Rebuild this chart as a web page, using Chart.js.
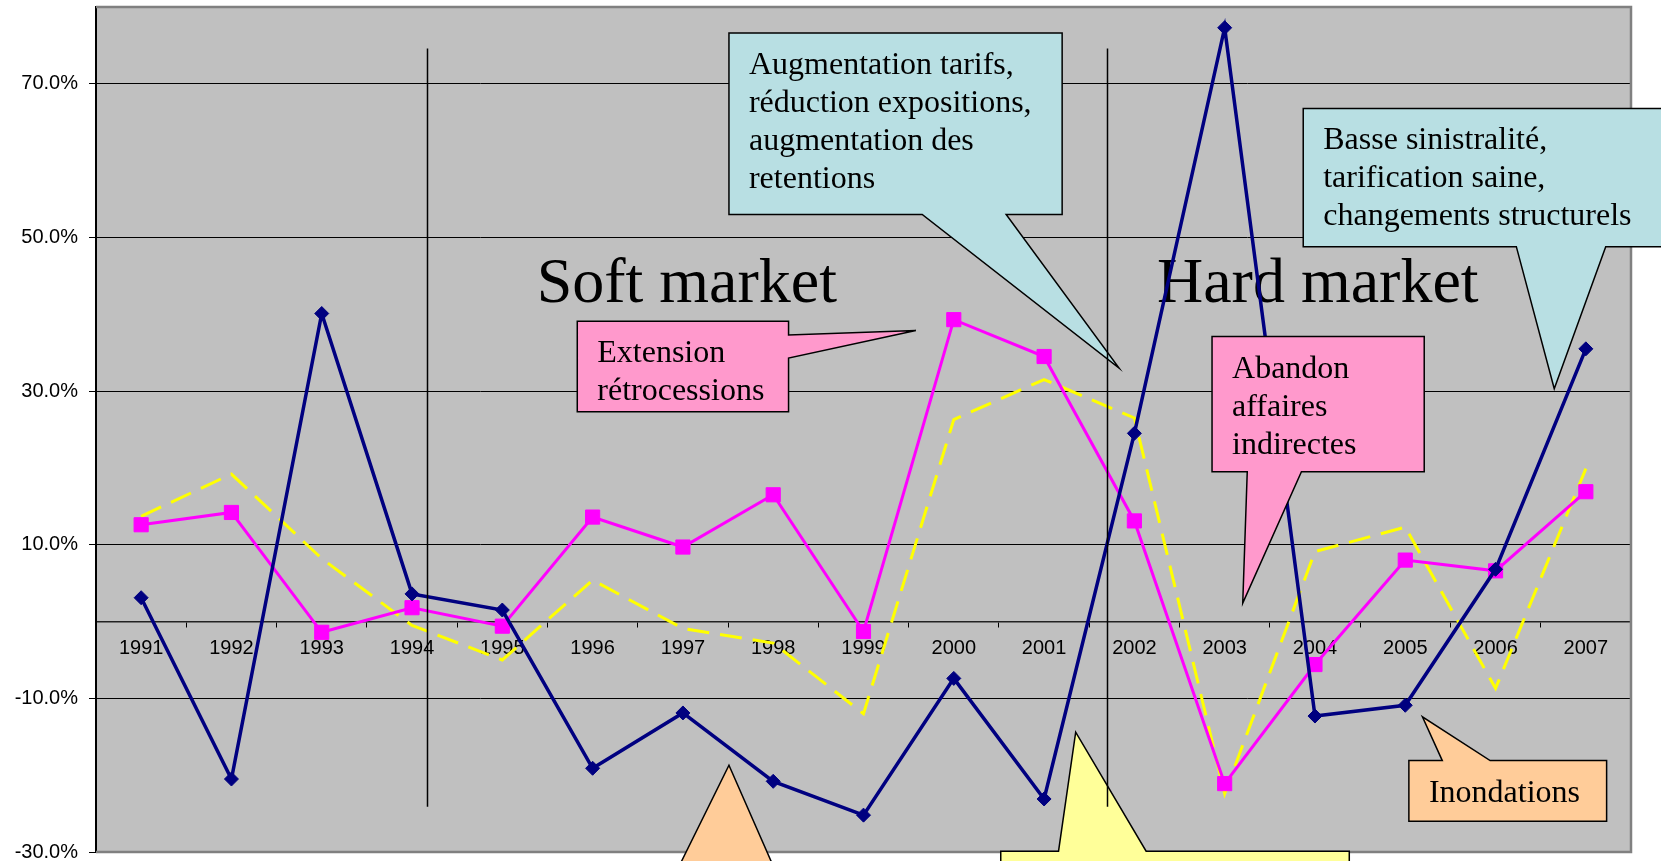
<!DOCTYPE html>
<html>
<head>
<meta charset="utf-8">
<script src="https://cdn.jsdelivr.net/npm/chart.js@4.4.1/dist/chart.umd.min.js"></script>
<style>
  html, body { margin: 0; padding: 0; background: #fff; }
  canvas { display: block; }
</style>
</head>
<body>
<canvas id="chart" width="1661" height="861"></canvas>
<script>
const years = ['1991', '1992', '1993', '1994', '1995', '1996', '1997', '1998', '1999',
               '2000', '2001', '2002', '2003', '2004', '2005', '2006', '2007'];
const navySeries = [3.1, -20.5, 40.1, 3.6, 1.5, -19.1, -11.9, -20.8, -25.2,
                    -7.4, -23.1, 24.5, 77.3, -12.3, -10.9, 6.8, 35.5];
const pinkSeries = [12.6, 14.2, -1.4, 1.8, -0.6, 13.6, 9.7, 16.5, -1.3,
                    39.3, 34.5, 13.1, -21.1, -5.6, 8.0, 6.6, 16.9];
const yellowSeries = [13.7, 19.2, 8.2, -0.5, -5.0, 5.4, -0.9, -2.8, -12.0,
                      26.3, 31.5, 26.5, -22.4, 9.1, 12.3, -8.7, 19.9];
const yTicks = [-30, -10, 10, 30, 50, 70];
const yMin = -30, yMax = 80;

// period labels and dividers (x in category index, y in %)
const periods = [
    { text: 'Soft market', x: 4.38, y: 41.6 },
    { text: 'Hard market', x: 11.25, y: 41.6 }
];
const dividers = [3.17, 10.70];
const dividerSpan = [74.6, -24.1];

// callouts: box = [left, right, top, bottom]
const callouts = [
    { fill: '#B8DFE3', box: [6.51, 10.20, 76.6, 53.0], side: 'bottom', base: [8.65, 9.58], tip: [10.83, 33.0],
      lines: ['Augmentation tarifs,', 'réduction expositions,', 'augmentation des', 'retentions'] },
    { fill: '#B8DFE3', box: [12.87, 17.2, 66.8, 48.8], side: 'bottom', base: [15.23, 16.22], tip: [15.65, 30.3],
      lines: ['Basse sinistralité,', 'tarification saine,', 'changements structurels'] },
    { fill: '#FF99CC', box: [4.83, 7.17, 39.1, 27.3], side: 'right', base: [37.3, 34.3], tip: [8.58, 37.9],
      lines: ['Extension', 'rétrocessions'] },
    { fill: '#FF99CC', box: [11.86, 14.21, 37.1, 19.5], side: 'bottom', base: [12.25, 12.85], tip: [12.20, 2.4],
      lines: ['Abandon', 'affaires', 'indirectes'] },
    { fill: '#FFCC99', box: [14.04, 16.23, -18.1, -26.0], side: 'top', base: [14.41, 14.94], tip: [14.19, -12.4],
      lines: ['Inondations'] },
    { fill: '#FFCC99', box: [5.52, 8.40, -33.7, -45], side: 'top', base: [5.88, 7.07], tip: [6.51, -18.7],
      lines: [] },
    { fill: '#FFFF99', box: [9.52, 13.38, -29.9, -45], side: 'top', base: [10.16, 11.13], tip: [10.35, -14.4],
      lines: [] }
];

const serif = '"Liberation Serif", "Times New Roman", serif';
const sans = '"Liberation Sans", Arial, sans-serif';

function calloutPath(ctx, c, xs, ys) {
    const L = xs.getPixelForValue(c.box[0]), R = xs.getPixelForValue(c.box[1]);
    const T = ys.getPixelForValue(c.box[2]), B = ys.getPixelForValue(c.box[3]);
    const tx = xs.getPixelForValue(c.tip[0]), ty = ys.getPixelForValue(c.tip[1]);
    ctx.beginPath();
    if (c.side === 'right') {
        const b = c.base.map(v => ys.getPixelForValue(v)).sort((a, b) => a - b);
        ctx.moveTo(L, T); ctx.lineTo(R, T); ctx.lineTo(R, b[0]); ctx.lineTo(tx, ty);
        ctx.lineTo(R, b[1]); ctx.lineTo(R, B); ctx.lineTo(L, B);
    } else {
        const b = c.base.map(v => xs.getPixelForValue(v)).sort((a, b) => a - b);
        if (c.side === 'top') {
            ctx.moveTo(L, T); ctx.lineTo(b[0], T); ctx.lineTo(tx, ty); ctx.lineTo(b[1], T);
            ctx.lineTo(R, T); ctx.lineTo(R, B); ctx.lineTo(L, B);
        } else {
            ctx.moveTo(L, T); ctx.lineTo(R, T); ctx.lineTo(R, B); ctx.lineTo(b[1], B);
            ctx.lineTo(tx, ty); ctx.lineTo(b[0], B); ctx.lineTo(L, B);
        }
    }
    ctx.closePath();
    return { L, T };
}

const decor = {
    id: 'decor',
    beforeDraw(chart) {
        const { ctx, chartArea: a } = chart;
        ctx.save();
        ctx.fillStyle = '#fff';
        ctx.fillRect(0, 0, chart.width, chart.height);
        ctx.fillStyle = '#C0C0C0';
        ctx.fillRect(a.left, a.top, a.right - a.left, a.bottom - a.top);
        ctx.restore();
    },
    beforeDatasetsDraw(chart) {
        const { ctx, chartArea: a } = chart;
        const xs = chart.scales.x, ys = chart.scales.y;
        ctx.save();
        ctx.strokeStyle = '#808080';
        ctx.lineWidth = 2.5;
        ctx.beginPath();
        ctx.moveTo(a.left, a.top);
        ctx.lineTo(a.right, a.top);
        ctx.lineTo(a.right, a.bottom);
        ctx.lineTo(a.left, a.bottom);
        ctx.stroke();
        ctx.fillStyle = '#000';
        ctx.font = '64px ' + serif;
        ctx.textAlign = 'left';
        ctx.textBaseline = 'alphabetic';
        periods.forEach(p => {
            ctx.fillText(p.text, xs.getPixelForValue(p.x), ys.getPixelForValue(p.y));
        });
        ctx.restore();
    },
    afterDatasetsDraw(chart) {
        const { ctx } = chart;
        const xs = chart.scales.x, ys = chart.scales.y;
        ctx.save();
        ctx.textAlign = 'left';
        ctx.textBaseline = 'alphabetic';
        callouts.forEach(c => {
            const o = calloutPath(ctx, c, xs, ys);
            ctx.fillStyle = c.fill;
            ctx.fill();
            ctx.strokeStyle = '#000';
            ctx.lineWidth = 1.5;
            ctx.lineJoin = 'miter';
            ctx.stroke();
            ctx.fillStyle = '#000';
            ctx.font = '32px ' + serif;
            c.lines.forEach((t, i) => ctx.fillText(t, o.L + 20, o.T + 41 + i * 38));
        });
        ctx.strokeStyle = '#000';
        ctx.lineWidth = 1.5;
        dividers.forEach(d => {
            const x = Math.round(xs.getPixelForValue(d)) + 0.5;
            ctx.beginPath();
            ctx.moveTo(x, ys.getPixelForValue(dividerSpan[0]));
            ctx.lineTo(x, ys.getPixelForValue(dividerSpan[1]));
            ctx.stroke();
        });
        ctx.restore();
    }
};

new Chart(document.getElementById('chart'), {
    type: 'line',
    data: {
        labels: years,
        datasets: [
            {
                data: navySeries,
                borderColor: '#000080',
                backgroundColor: '#000080',
                borderWidth: 3.5,
                pointStyle: 'rectRot',
                pointRadius: 7,
                pointBorderWidth: 1,
                tension: 0
            },
            {
                data: pinkSeries,
                borderColor: '#FF00FF',
                backgroundColor: '#FF00FF',
                borderWidth: 3,
                pointStyle: 'rect',
                pointRadius: 10,
                pointBorderWidth: 1,
                tension: 0
            },
            {
                data: yellowSeries,
                borderColor: '#FFFF00',
                borderWidth: 3,
                borderDash: [22, 11],
                pointRadius: 0,
                tension: 0
            }
        ]
    },
    options: {
        responsive: false,
        animation: false,
        events: [],
        layout: { autoPadding: false, padding: { left: 0, right: 30, top: 7, bottom: 9 } },
        plugins: { legend: { display: false }, tooltip: { enabled: false } },
        scales: {
            x: {
                position: { y: 0 },
                offset: true,
                afterFit: s => { s.paddingLeft = 0; s.paddingRight = 0; s.paddingTop = 0; s.paddingBottom = 0; },
                grid: { offset: true, drawOnChartArea: false, drawTicks: true, tickLength: 5, color: '#000' },
                border: { display: true, color: '#222', width: 1.5 },
                ticks: {
                    color: '#000',
                    padding: 10,
                    maxRotation: 0,
                    autoSkip: false,
                    font: { family: sans, size: 20 }
                }
            },
            y: {
                min: yMin,
                max: yMax,
                afterBuildTicks: s => { s.ticks = yTicks.map(v => ({ value: v })); },
                afterFit: s => { s.width = 96; s.paddingTop = 0; s.paddingBottom = 0; },
                grid: { color: '#000', lineWidth: 1, tickLength: 7 },
                border: { display: true, color: '#000', width: 2 },
                ticks: {
                    color: '#000',
                    padding: 11,
                    callback: v => v.toFixed(1) + '%',
                    font: { family: sans, size: 20 }
                }
            }
        }
    },
    plugins: [decor]
});
</script>
</body>
</html>
